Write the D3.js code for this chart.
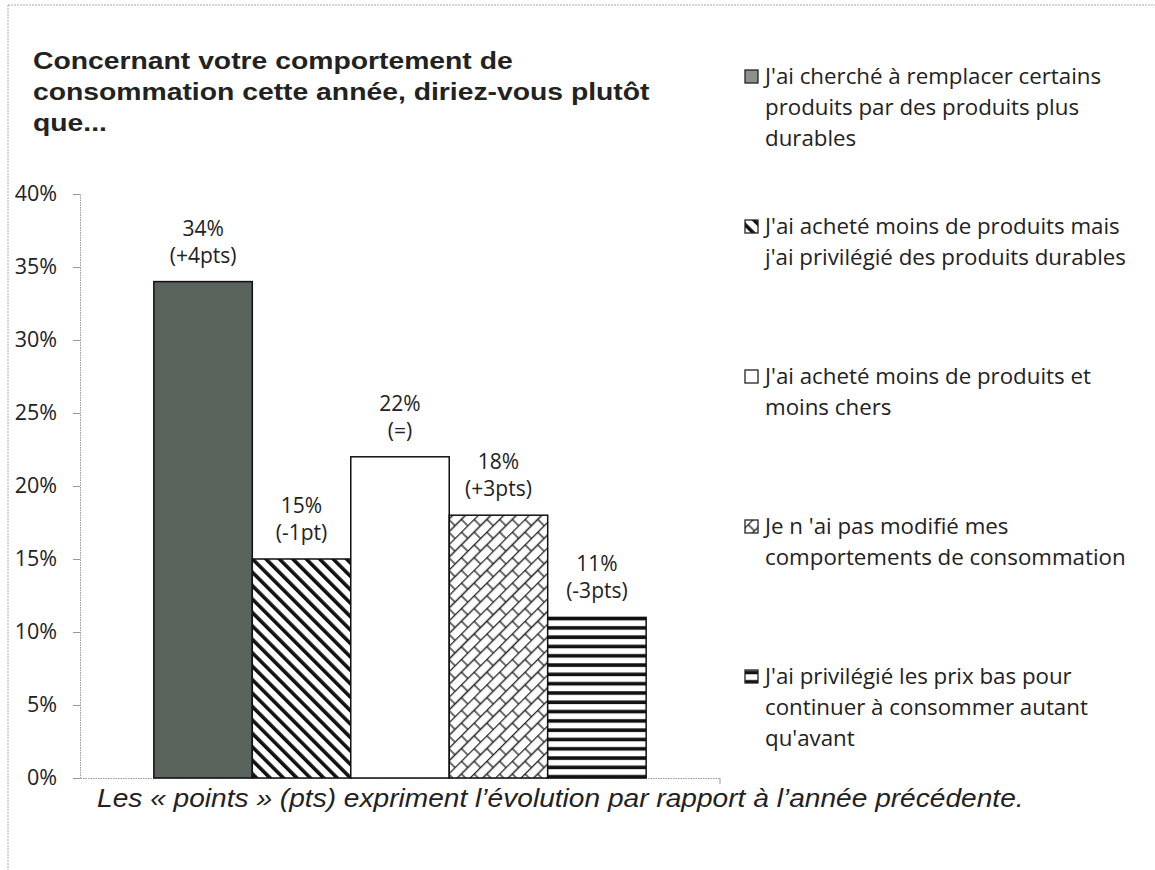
<!DOCTYPE html>
<html>
<head>
<meta charset="utf-8">
<script src="https://cdn.jsdelivr.net/npm/d3@7"></script>
<style>
  body { margin: 0; background: #fff; }
  svg { display: block; }
</style>
</head>
<body>
<div id="chart"></div>
<script>
// data
var seriesKeys = ["remplacer", "moinsDurables", "moinsChers", "pasModifie", "prixBas"];
var values = [34, 15, 22, 18, 11];
var deltas = ["(+4pts)", "(-1pt)", "(=)", "(+3pts)", "(-3pts)"];
var legendLines = [
  ["J'ai cherché à remplacer certains", "produits par des produits plus", "durables"],
  ["J'ai acheté moins de produits mais", "j'ai privilégié des produits durables"],
  ["J'ai acheté moins de produits et", "moins chers"],
  ["Je n 'ai pas modifié mes", "comportements de consommation"],
  ["J'ai privilégié les prix bas pour", "continuer à consommer autant", "qu'avant"]
];
var yTicks = [0, 5, 10, 15, 20, 25, 30, 35, 40];
var titleLines = ["Concernant votre comportement de", "consommation cette année, diriez-vous plutôt", "que..."];
var footnote = "Les « points » (pts) expriment l’évolution par rapport à l’année précédente.";

var svgWidth = 1155, svgHeight = 870;
var plot = {left: 80, right: 720, top: 194, bottom: 778};
var bodyFont = "'Open Sans', Lato, sans-serif";

var svg = d3.select("#chart").append("svg")
  .attr("width", svgWidth)
  .attr("height", svgHeight);

// patterns
var defs = svg.append("defs");

var p2 = defs.append("pattern").attr("id", "pat-diag")
  .attr("patternUnits", "userSpaceOnUse").attr("width", 9.5).attr("height", 9.5)
  .attr("patternTransform", "rotate(-45)");
p2.append("rect").attr("width", 9.5).attr("height", 9.5).attr("fill", "#fff");
p2.append("rect").attr("x", 0).attr("width", 3.6).attr("height", 9.5).attr("fill", "#111");

var p4 = defs.append("pattern").attr("id", "pat-brick")
  .attr("patternUnits", "userSpaceOnUse").attr("width", 18).attr("height", 18)
  .attr("patternTransform", "rotate(-45)");
p4.append("rect").attr("width", 18).attr("height", 18).attr("fill", "#fff");
p4.append("path")
  .attr("d", "M0,0.5H18M0,9.5H18M4,0.5V9.5M13,9.5V18.5")
  .attr("stroke", "#222").attr("stroke-width", 1.3).attr("fill", "none");

var p5 = defs.append("pattern").attr("id", "pat-horiz")
  .attr("patternUnits", "userSpaceOnUse").attr("width", 10).attr("height", 9.3);
p5.append("rect").attr("width", 10).attr("height", 9.3).attr("fill", "#fff");
p5.append("rect").attr("y", 3).attr("width", 10).attr("height", 3.6).attr("fill", "#111");

var fills = {
  remplacer: "#5a625c",
  moinsDurables: "url(#pat-diag)",
  moinsChers: "#fff",
  pasModifie: "url(#pat-brick)",
  prixBas: "url(#pat-horiz)"
};
var legendFills = {
  remplacer: "#8b928d",
  moinsDurables: "url(#pat-diag)",
  moinsChers: "#fff",
  pasModifie: "url(#pat-brick)",
  prixBas: "url(#pat-horiz)"
};

// frame
svg.append("line").attr("x1", 8).attr("x2", 1155).attr("y1", 5).attr("y2", 5)
  .attr("stroke", "#aaa").attr("stroke-width", 1).attr("stroke-dasharray", "2,1");
svg.append("line").attr("x1", 8).attr("x2", 8).attr("y1", 5).attr("y2", 870)
  .attr("stroke", "#aaa").attr("stroke-width", 1).attr("stroke-dasharray", "2,1");

// scales
var y = d3.scaleLinear().domain([0, 40]).range([plot.bottom, plot.top]);
var x = d3.scaleBand().domain(seriesKeys).range([plot.left, plot.right])
  .paddingInner(0).paddingOuter(0.75);

// y axis
var yAxis = svg.append("g")
  .attr("transform", "translate(" + plot.left + ",0)")
  .call(d3.axisLeft(y).tickValues(yTicks).tickSize(7).tickPadding(16)
    .tickFormat(function(d){ return d + "%"; }));
yAxis.select(".domain").attr("stroke", "#999").attr("stroke-dasharray", "1.5,1");
yAxis.selectAll(".tick line").attr("stroke", "#999");
yAxis.selectAll(".tick text")
  .attr("font-family", bodyFont)
  .attr("font-size", "21.5px").attr("fill", "#222");

// x axis line
svg.append("line").attr("x1", plot.left - 7).attr("x2", plot.right)
  .attr("y1", plot.bottom + 0.5).attr("y2", plot.bottom + 0.5)
  .attr("stroke", "#999").attr("stroke-dasharray", "1.5,1");
svg.append("line").attr("x1", plot.right).attr("x2", plot.right)
  .attr("y1", plot.bottom).attr("y2", plot.bottom + 6).attr("stroke", "#999");

// bars
var data = seriesKeys.map(function(k, i){ return {key: k, value: values[i], delta: deltas[i]}; });

svg.selectAll("rect.bar")
  .data(data)
  .enter()
  .append("rect")
    .attr("class", "bar")
    .attr("x", function(d){ return x(d.key); })
    .attr("y", function(d){ return y(d.value); })
    .attr("width", x.bandwidth())
    .attr("height", function(d){ return y(0) - y(d.value); })
    .attr("fill", function(d){ return fills[d.key]; })
    .attr("stroke", "#111")
    .attr("stroke-width", 1.5);

// value labels
var labels = svg.selectAll("g.lbl")
  .data(data)
  .enter()
  .append("g")
    .attr("class", "lbl")
    .attr("transform", function(d){ return "translate(" + (x(d.key) + x.bandwidth() / 2) + "," + y(d.value) + ")"; });
labels.append("text")
  .attr("y", -46)
  .text(function(d){ return d.value + "%"; });
labels.append("text")
  .attr("y", -19)
  .text(function(d){ return d.delta; });
labels.selectAll("text")
  .attr("text-anchor", "middle")
  .attr("font-family", bodyFont)
  .attr("font-size", "21px")
  .attr("fill", "#222");

// title (the scan is a bit stretched sideways)
svg.append("g")
  .attr("transform", "translate(33,69) scale(1.18,1)")
  .append("text")
  .attr("font-family", "'Liberation Sans', Arial, sans-serif")
  .attr("font-weight", "bold").attr("font-size", "24px").attr("fill", "#222")
  .selectAll("tspan")
  .data(titleLines)
  .enter()
  .append("tspan")
    .attr("x", 0)
    .attr("y", function(d, i){ return i * 31; })
    .text(function(d){ return d; });

// legend
var legend = svg.selectAll("g.legend")
  .data(seriesKeys)
  .enter()
  .append("g")
    .attr("class", "legend")
    .attr("transform", function(d, i){ return "translate(745," + (77 + i * 150) + ")"; });
legend.append("rect")
  .attr("x", 0).attr("y", -7)
  .attr("width", 13).attr("height", 13)
  .attr("fill", function(d){ return legendFills[d]; })
  .attr("stroke", "#222").attr("stroke-width", 1.3);
legend.append("text")
  .attr("font-family", bodyFont)
  .attr("font-size", "22.3px").attr("fill", "#222")
  .selectAll("tspan")
  .data(function(d, i){ return legendLines[i]; })
  .enter()
  .append("tspan")
    .attr("x", 20)
    .attr("y", function(d, j){ return 7 + j * 31; })
    .text(function(d){ return d; });

// footnote
svg.append("g")
  .attr("transform", "translate(97,807) scale(1.125,1)")
  .append("text")
  .attr("font-family", "'Liberation Sans', Arial, sans-serif")
  .attr("font-style", "italic").attr("font-size", "25px").attr("fill", "#222")
  .text(footnote);
</script>
</body>
</html>
